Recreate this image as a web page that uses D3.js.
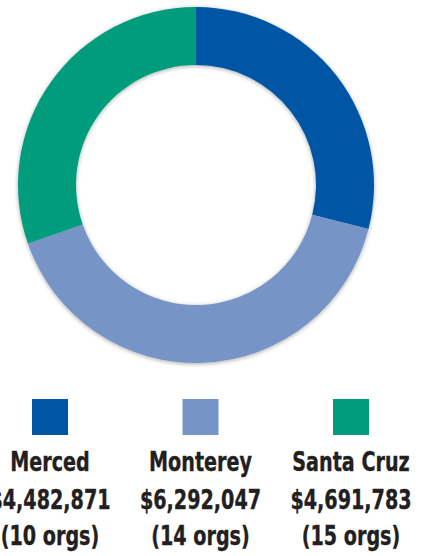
<!DOCTYPE html>
<html><head><meta charset="utf-8">
<script src="https://cdn.jsdelivr.net/npm/d3@7"></script>
<style>html,body{margin:0;padding:0;background:#fff;overflow:hidden}</style>
</head><body>
<svg id="c" width="427" height="556"></svg>
<script>
const categories = ["Merced", "Monterey", "Santa Cruz"];
const values = [4482871, 6292047, 4691783];
const orgs = [10, 14, 15];
const colors = ["#0056a4", "#7694c5", "#009c7c"];

const W = 427, H = 556;
const cx = 196, cy = 185, R = 178, r = 120;
const svg = d3.select("#c");

const defs = svg.append("defs");
const f = defs.append("filter").attr("id", "sh").attr("x", "-10%").attr("y", "-10%").attr("width", "120%").attr("height", "120%");
f.append("feGaussianBlur").attr("in", "SourceAlpha").attr("stdDeviation", 2);
f.append("feOffset").attr("dx", 0).attr("dy", 1).attr("result", "b");
f.append("feComponentTransfer").append("feFuncA").attr("type", "linear").attr("slope", 0.35);
const m = f.append("feMerge");
m.append("feMergeNode");
m.append("feMergeNode").attr("in", "SourceGraphic");

const data = categories.map((c, i) => ({ cat: c, value: values[i], orgs: orgs[i], color: colors[i] }));
const pie = d3.pie().value(d => d.value).sort(null);
const arc = d3.arc().innerRadius(r).outerRadius(R);

const g = svg.append("g").attr("transform", `translate(${cx},${cy})`).attr("filter", "url(#sh)");
g.selectAll("path").data(pie(data)).join("path")
  .attr("d", arc).attr("fill", d => d.data.color);

const x = d3.scalePoint().domain(categories).range([50, 351]);
const fmt = d3.format("$,");

const leg = svg.append("g").selectAll("g").data(data).join("g")
  .attr("transform", d => `translate(${x(d.cat)},0)`);
leg.append("rect").attr("x", -18).attr("y", 399).attr("width", 36).attr("height", 36).attr("fill", d => d.color);

const lines = [d => d.cat, d => fmt(d.value), d => `(${d.orgs} orgs)`];
const baselines = [471, 509, 545];
const FONT = "'DejaVu Sans', sans-serif";
const allTexts = [];
lines.forEach((fn, k) => {
  const t = leg.append("text")
    .attr("x", 0)
    .attr("y", baselines[k])
    .attr("text-anchor", "middle")
    .attr("font-family", FONT)
    .attr("font-weight", "bold")
    .attr("font-size", 26.5)
    .attr("fill", "#231f20")
    .attr("stroke", "#231f20")
    .attr("stroke-width", 0.4)
    .text(fn);
  allTexts.push(t);
});
// condense horizontally to mimic a condensed bold face
let refW = 0;
allTexts[0].each(function(d) { if (d.cat === "Monterey") refW = this.getComputedTextLength(); });
const s = refW ? 103 / refW : 0.72;
allTexts.forEach(t => t.attr("transform", `scale(${s},1)`));
</script>
</body></html>
